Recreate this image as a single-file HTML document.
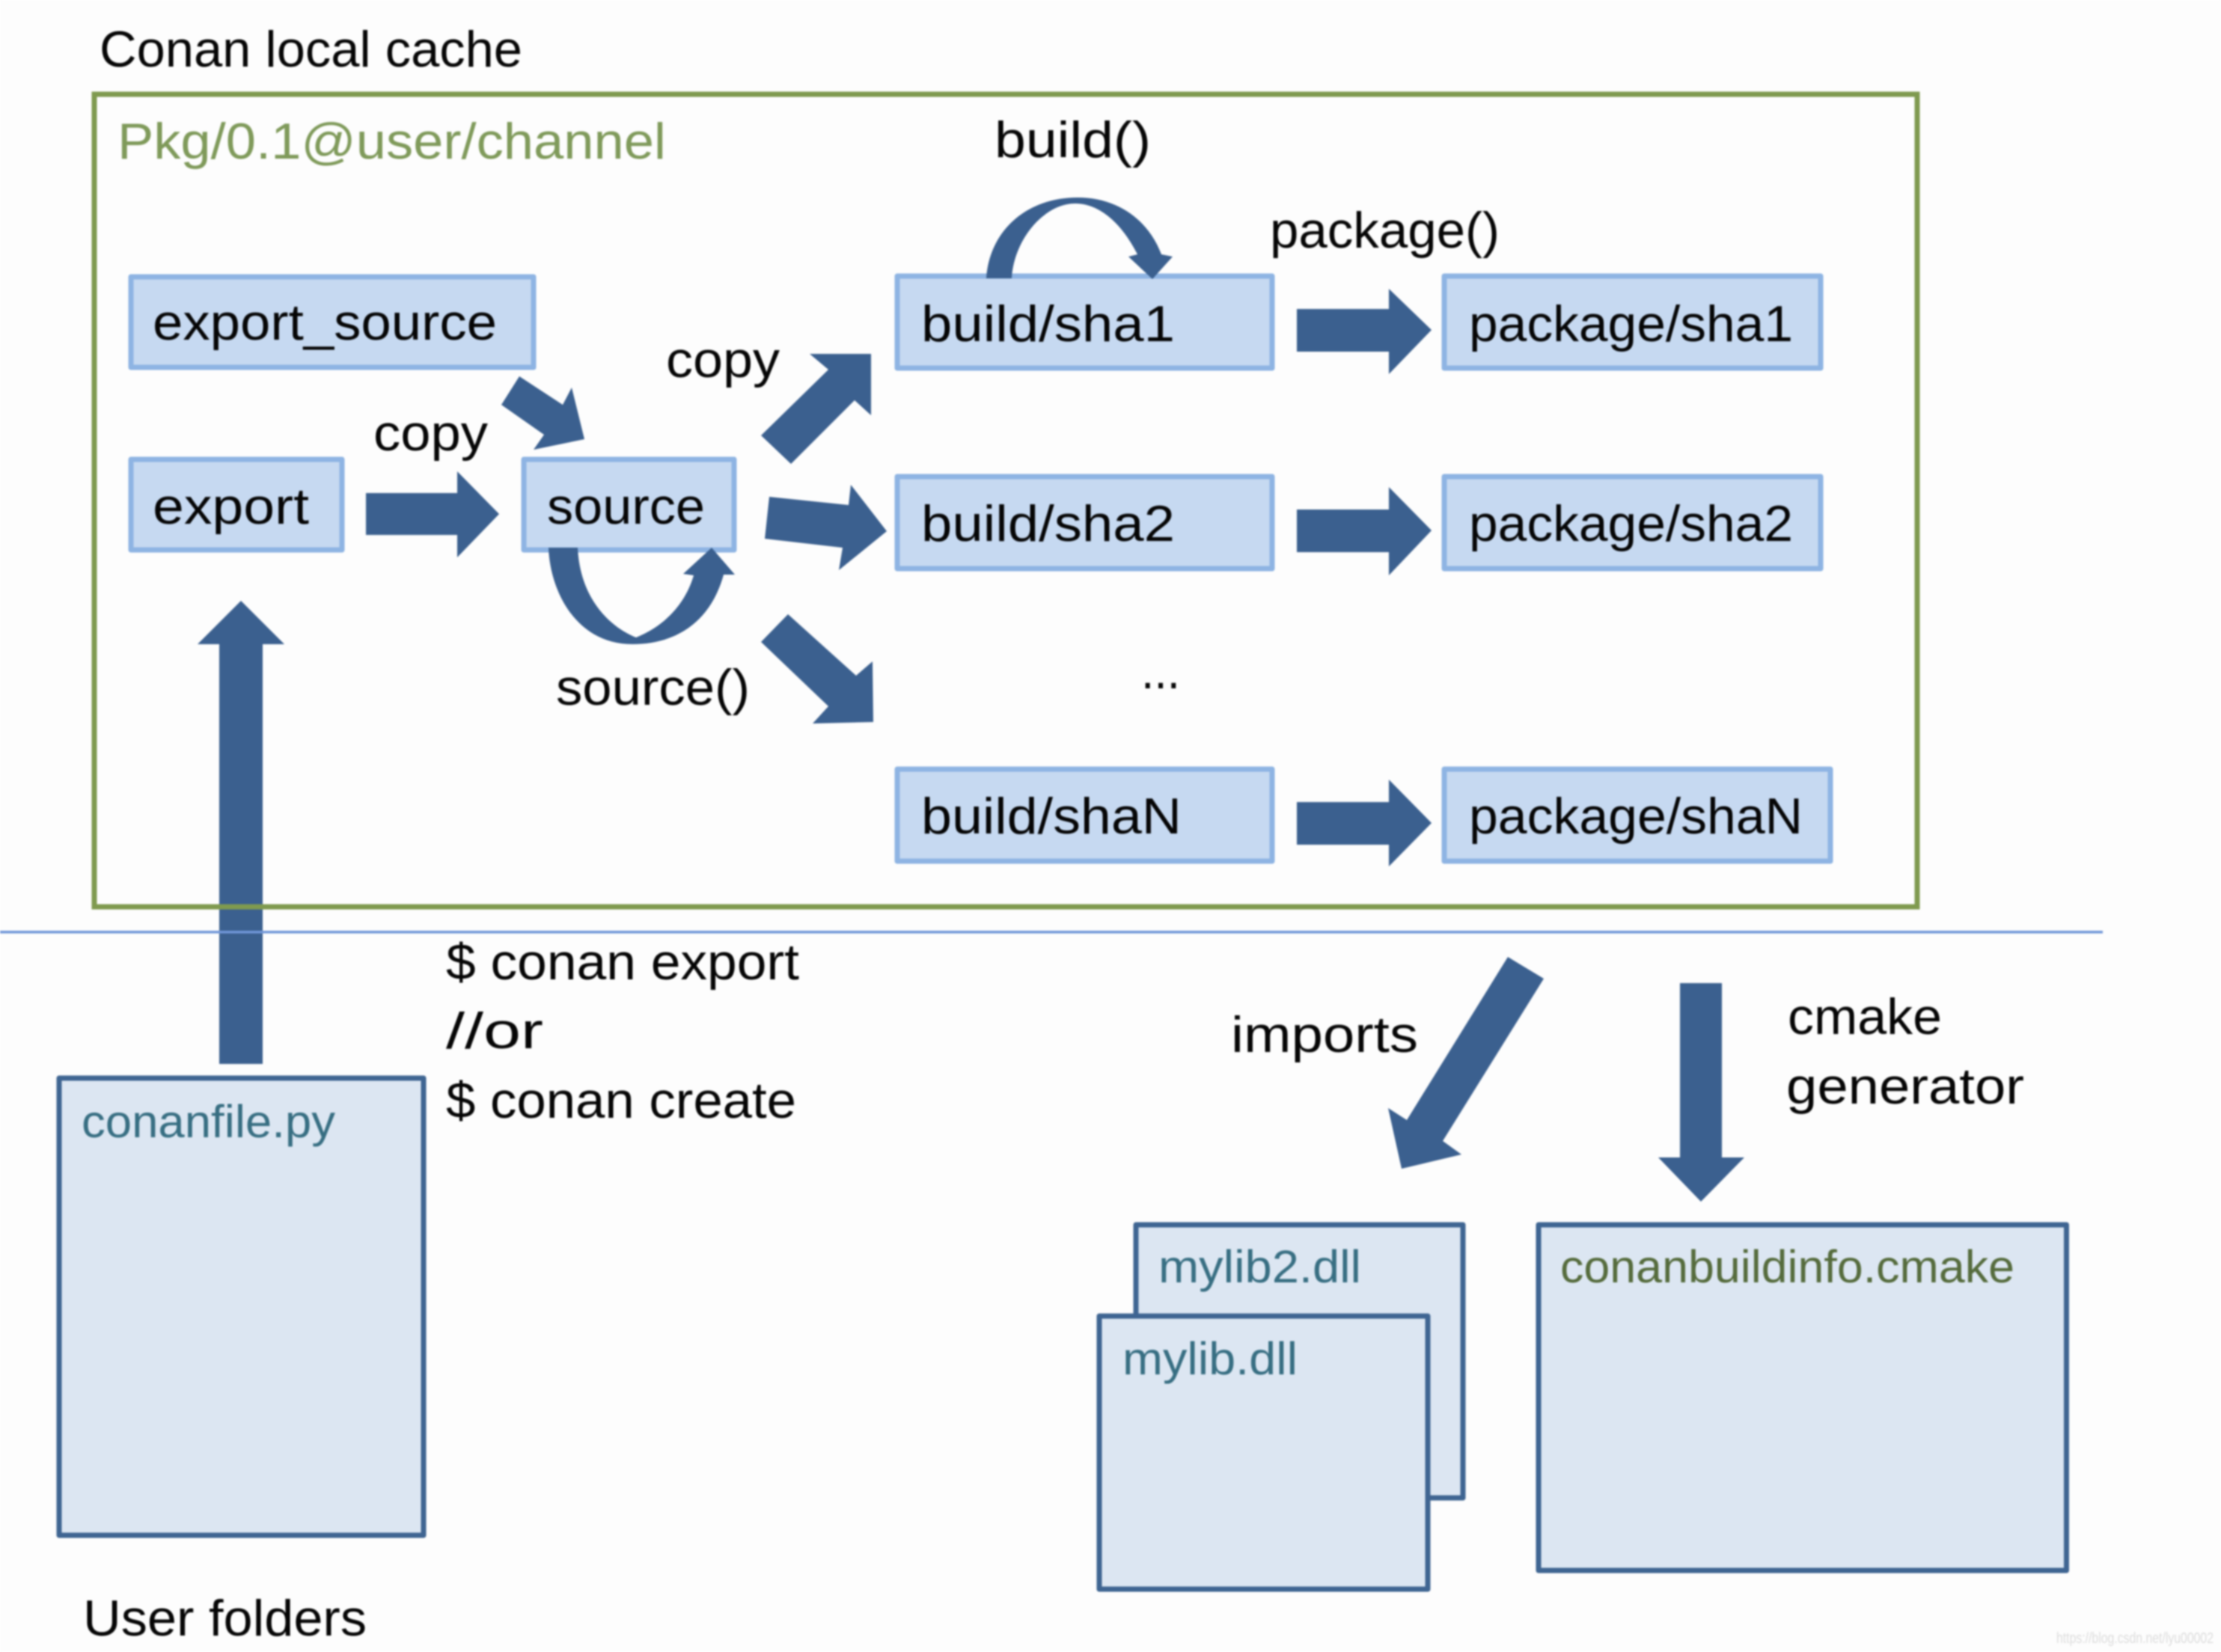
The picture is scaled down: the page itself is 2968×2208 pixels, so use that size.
<!DOCTYPE html>
<html><head><meta charset="utf-8"><style>
html,body{margin:0;padding:0;background:#fdfdfd;overflow:hidden}
svg{display:block;filter:blur(1px)}
text{font-family:"Liberation Sans",sans-serif;font-size:68px;fill:#050505}
.s{font-size:61px;}
</style></head><body>
<svg width="2968" height="2208" viewBox="0 0 2968 2208" xmlns="http://www.w3.org/2000/svg">
<rect width="2968" height="2208" fill="#fdfdfd"/>
<g fill="#c6d9f1" stroke="#8eb4e3" stroke-width="7" stroke-linejoin="round">
<rect x="175" y="370" width="538" height="121"/>
<rect x="175" y="614" width="282" height="121"/>
<rect x="700" y="614" width="281" height="121"/>
<rect x="1199" y="369" width="501" height="123"/>
<rect x="1930" y="369" width="503" height="123"/>
<rect x="1199" y="637" width="501" height="123"/>
<rect x="1930" y="637" width="503" height="123"/>
<rect x="1199" y="1028" width="501" height="123"/>
<rect x="1930" y="1028" width="516" height="123"/>
</g>
<g fill="#3b608f">
<polygon points="489,659 611,659 611,630 667,687 611,745 611,715 489,715"/>
<polygon points="694,503 752,541 764,518 781,587 713,601 727,581 670,541"/>
<polygon points="1017,582 1057,620 1142,535 1164,555 1164,473 1082,473 1107,494"/>
<polygon points="1028,664 1134,675 1137,648 1185,710 1121,762 1126,732 1022,720"/>
<polygon points="1053,821 1144,903 1166,884 1167,965 1086,967 1107,944 1017,858"/>
<polygon points="293,1422 293,861 264,861 322,803 380,861 351,861 351,1422"/>
<path d="M733 732 C735 790 770 861 845 861 C905 861 950 830 967 768 L982 768 L951 732 L913 767 L927 769 C915 810 885 838 850 852 C815 838 775 800 772 732 Z"/>
<path d="M1318 372 C1322 310 1370 264 1440 264 C1495 264 1535 295 1552 340 L1567 343 L1540 373 L1508 343 L1520 340 C1500 300 1470 272 1437 272 C1395 272 1355 320 1352 372 Z"/>
<polygon points="1733,413 1856,413 1856,386 1913,441 1856,500 1856,470 1733,470"/>
<polygon points="1733,681 1856,681 1856,651 1913,709 1856,769 1856,738 1733,738"/>
<polygon points="1733,1072 1856,1072 1856,1042 1913,1100 1856,1158 1856,1129 1733,1129"/>
<polygon points="2015,1279 2063,1308 1928,1525 1953,1543 1873,1562 1855,1481 1880,1497"/>
<polygon points="2245,1314 2301,1314 2301,1547 2331,1547 2273,1606 2216,1547 2245,1547"/>
</g>
<rect x="126" y="126" width="2436" height="1086" fill="none" stroke="#7f9a4f" stroke-width="7"/>
<rect x="0" y="1244" width="2810" height="3.500" fill="#7096d8"/>
<g fill="#dce6f2" stroke="#3f6592" stroke-width="7" stroke-linejoin="round">
<rect x="79" y="1441" width="487" height="611"/>
<rect x="1518" y="1637" width="437" height="365"/>
<rect x="1469" y="1759" width="439" height="365"/>
<rect x="2056" y="1637" width="705.500" height="462"/>
</g>
<g>
<text x="133" y="89" textLength="565" lengthAdjust="spacingAndGlyphs">Conan local cache</text>
<text x="157" y="212" textLength="733" lengthAdjust="spacingAndGlyphs" style="fill:#7f9a5a">Pkg/0.1@user/channel</text>
<text x="204" y="454" textLength="460" lengthAdjust="spacingAndGlyphs">export_source</text>
<text x="204" y="700" textLength="209" lengthAdjust="spacingAndGlyphs">export</text>
<text x="731" y="700" textLength="211" lengthAdjust="spacingAndGlyphs">source</text>
<text x="499" y="602" textLength="153" lengthAdjust="spacingAndGlyphs">copy</text>
<text x="890" y="504" textLength="152" lengthAdjust="spacingAndGlyphs">copy</text>
<text x="743" y="942" textLength="259" lengthAdjust="spacingAndGlyphs">source()</text>
<text x="1329" y="210" textLength="209" lengthAdjust="spacingAndGlyphs">build()</text>
<text x="1697" y="331" textLength="307" lengthAdjust="spacingAndGlyphs">package()</text>
<text x="1231" y="456" textLength="339" lengthAdjust="spacingAndGlyphs">build/sha1</text>
<text x="1231" y="723" textLength="339" lengthAdjust="spacingAndGlyphs">build/sha2</text>
<text x="1231" y="1114" textLength="348" lengthAdjust="spacingAndGlyphs">build/shaN</text>
<text x="1963" y="456" textLength="433" lengthAdjust="spacingAndGlyphs">package/sha1</text>
<text x="1963" y="723" textLength="433" lengthAdjust="spacingAndGlyphs">package/sha2</text>
<text x="1963" y="1114" textLength="446" lengthAdjust="spacingAndGlyphs">package/shaN</text>
<text x="1525" y="920" textLength="52" lengthAdjust="spacingAndGlyphs">...</text>
<text x="596" y="1309" textLength="472" lengthAdjust="spacingAndGlyphs">$ conan export</text>
<text x="596" y="1401" textLength="130" lengthAdjust="spacingAndGlyphs">//or</text>
<text x="596" y="1494" textLength="468" lengthAdjust="spacingAndGlyphs">$ conan create</text>
<text x="111" y="2186" textLength="379" lengthAdjust="spacingAndGlyphs">User folders</text>
<text x="1645" y="1406" textLength="250" lengthAdjust="spacingAndGlyphs">imports</text>
<text x="2389" y="1382" textLength="206" lengthAdjust="spacingAndGlyphs">cmake</text>
<text x="2387" y="1475" textLength="318" lengthAdjust="spacingAndGlyphs">generator</text>
<text class="s" x="109" y="1520" textLength="339" lengthAdjust="spacingAndGlyphs" style="fill:#376e82">conanfile.py</text>
<text class="s" x="1548" y="1714" textLength="271" lengthAdjust="spacingAndGlyphs" style="fill:#376e82">mylib2.dll</text>
<text class="s" x="1500" y="1837" textLength="234" lengthAdjust="spacingAndGlyphs" style="fill:#376e82">mylib.dll</text>
<text class="s" x="2085" y="1714" textLength="607" lengthAdjust="spacingAndGlyphs" style="fill:#556b3c">conanbuildinfo.cmake</text>
<text x="2748" y="2196" textLength="210" lengthAdjust="spacingAndGlyphs" style="font-size:20px;fill:#dcdcdc">https://blog.csdn.net/lyu00002</text>
</g>
</svg>
</body></html>
